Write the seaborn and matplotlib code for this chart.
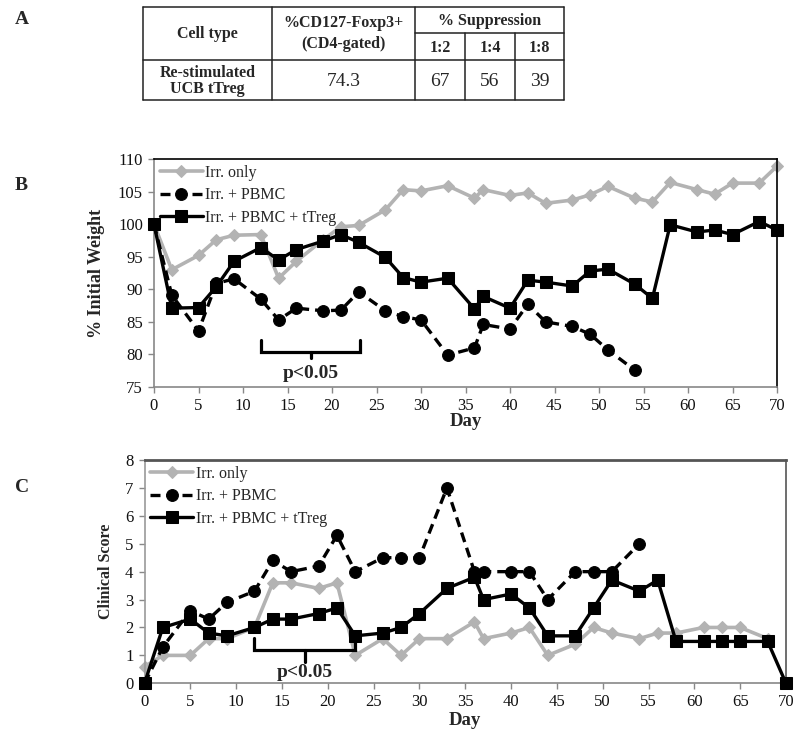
import matplotlib
matplotlib.use("Agg")
import matplotlib.pyplot as plt
import seaborn as sns
import pandas as pd

# ---------------- data ----------------
table_header = ["Cell type", "%CD127-Foxp3+\n(CD4-gated)", "% Suppression"]
ratios = ["1:2", "1:4", "1:8"]
cell_type = "Re-stimulated\nUCB tTreg"
pct_foxp3 = "74.3"
suppression = ["67", "56", "39"]

series_names = ["Irr. only", "Irr. + PBMC", "Irr. + PBMC + tTreg"]

days_long = [0, 2, 5, 7, 9, 12, 14, 16, 19, 21, 23, 26, 28, 30, 33, 36, 37, 40,
             42, 44, 47, 49, 51, 54, 56, 58, 61, 63, 65, 68, 70]
days_pbmc = [0, 2, 5, 7, 9, 12, 14, 16, 19, 21, 23, 26, 28, 30, 33, 36, 37, 40,
             42, 44, 47, 49, 51, 54]
days_irr_score = [0, 2, 5, 7, 9, 12, 14, 16, 19, 21, 23, 26, 28, 30, 33, 36, 37, 40,
                  42, 44, 47, 49, 51, 54, 56, 58, 61, 63, 65, 68]

weight_irr = [100, 93.0, 95.2, 97.6, 98.3, 98.4, 91.7, 94.3, 97.6, 99.6, 99.8, 102.2,
              105.3, 105.1, 105.9, 104.0, 105.3, 104.4, 104.8, 103.2, 103.7, 104.5,
              105.8, 104.0, 103.4, 106.4, 105.3, 104.6, 106.3, 106.3, 108.9]
weight_pbmc = [100, 89.1, 83.6, 90.9, 91.6, 88.5, 85.3, 87.1, 86.7, 86.8, 89.6, 86.7,
               85.8, 85.3, 79.9, 81.0, 84.6, 83.9, 87.7, 85.0, 84.3, 83.1, 80.7, 77.6]
weight_treg = [100, 87.1, 87.2, 90.4, 94.3, 96.4, 94.5, 96.1, 97.4, 98.4, 97.2, 94.9,
               91.8, 91.1, 91.7, 87.0, 88.9, 87.1, 91.4, 91.1, 90.5, 92.8, 93.1, 90.8,
               88.6, 99.9, 98.8, 99.1, 98.4, 100.4, 99.1]

score_irr = [0.6, 1.0, 1.0, 1.6, 1.6, 2.0, 3.6, 3.6, 3.4, 3.6, 1.0, 1.6, 1.0, 1.6, 1.6,
             2.2, 1.6, 1.8, 2.0, 1.0, 1.4, 2.0, 1.8, 1.6, 1.8, 1.8, 2.0, 2.0, 2.0, 1.6]
score_pbmc = [0, 1.3, 2.6, 2.3, 2.9, 3.3, 4.4, 4.0, 4.2, 5.3, 4.0, 4.5, 4.5, 4.5, 7.0,
              4.0, 4.0, 4.0, 4.0, 3.0, 4.0, 4.0, 4.0, 5.0]
score_treg = [0, 2.0, 2.3, 1.8, 1.7, 2.0, 2.3, 2.3, 2.5, 2.7, 1.7, 1.8, 2.0, 2.5, 3.4,
              3.8, 3.0, 3.2, 2.7, 1.7, 1.7, 2.7, 3.7, 3.3, 3.7, 1.5, 1.5, 1.5, 1.5, 1.5, 0]

# ---------------- style ----------------
sns.set_theme(style="ticks")
plt.rcParams["font.family"] = ["Liberation Serif", "DejaVu Serif"]
plt.rcParams["mathtext.default"] = "regular"

W, H = 800, 734
fig = plt.figure(figsize=(W / 100, H / 100), dpi=100)

# overlay axis in pixel coordinates for table and panel letters
ov = fig.add_axes([0, 0, 1, 1])
ov.set_xlim(0, W)
ov.set_ylim(H, 0)
ov.axis("off")
ov.set_zorder(-1)

for txt, y in [("A", 19), ("B", 186), ("C", 488)]:
    ov.text(15, y, txt, fontsize=14, fontweight="bold", ha="left", va="center")

# ---- table (panel A) ----
cols = [143, 272, 415, 465, 515, 564]
rows = [7, 33, 60, 100]
lc = "#222222"
lw = 1.1
ov.plot([cols[0], cols[-1]], [rows[0], rows[0]], color=lc, lw=lw)
ov.plot([cols[0], cols[-1]], [rows[2], rows[2]], color=lc, lw=lw)
ov.plot([cols[0], cols[-1]], [rows[3], rows[3]], color=lc, lw=lw)
ov.plot([cols[2], cols[-1]], [rows[1], rows[1]], color=lc, lw=lw)
for c in cols[:3] + [cols[-1]]:
    ov.plot([c, c], [rows[0], rows[3]], color=lc, lw=lw)
for c in cols[3:5]:
    ov.plot([c, c], [rows[1], rows[3]], color=lc, lw=lw)

hdr_y = (rows[0] + rows[2]) / 2
ov.text((cols[0] + cols[1]) / 2, hdr_y, table_header[0], fontsize=11.5, fontweight="bold",
        ha="center", va="center")
ov.text((cols[1] + cols[2]) / 2, hdr_y, table_header[1], fontsize=11.5, fontweight="bold",
        ha="center", va="center", linespacing=1.45)
ov.text((cols[2] + cols[5]) / 2, (rows[0] + rows[1]) / 2 + 1, table_header[2], fontsize=11.5,
        fontweight="bold", ha="center", va="center")
for i, r in enumerate(ratios):
    ov.text((cols[2 + i] + cols[3 + i]) / 2, (rows[1] + rows[2]) / 2 + 1, r, fontsize=11.5,
            fontweight="bold", ha="center", va="center")
data_y = (rows[2] + rows[3]) / 2
ov.text((cols[0] + cols[1]) / 2, data_y + 1, cell_type, fontsize=11.5, fontweight="bold",
        ha="center", va="center", linespacing=1.05)
ov.text((cols[1] + cols[2]) / 2, data_y + 1, pct_foxp3, fontsize=14, ha="center", va="center")
for i, s in enumerate(suppression):
    ov.text((cols[2 + i] + cols[3 + i]) / 2, data_y + 1, s, fontsize=14, ha="center",
            va="center")

# ---------------- line panels ----------------
GRAY = "#b3b3b3"


def draw_series(ax, d_irr, v_irr, d_pbmc, v_pbmc, d_treg, v_treg):
    sns.lineplot(x=d_irr, y=v_irr, ax=ax, color=GRAY, lw=2.6, marker="D", markersize=6,
                 markeredgecolor=GRAY, label=series_names[0], zorder=2)
    sns.lineplot(x=d_pbmc, y=v_pbmc, ax=ax, color="black", lw=2.4, marker="o",
                 markersize=8.5, markeredgecolor="black", linestyle=(0, (3, 1.8)),
                 label=series_names[1], zorder=3)
    sns.lineplot(x=d_treg, y=v_treg, ax=ax, color="black", lw=2.4, marker="s",
                 markersize=8.5, markeredgecolor="black", label=series_names[2], zorder=4)


def style_axes(ax, top_col, right_col, left_col, bottom_col, lw_top):
    ax.set_xlim(0, 70)
    ax.set_xticks(range(0, 71, 5))
    for side, col in [("top", top_col), ("right", right_col), ("left", left_col),
                      ("bottom", bottom_col)]:
        ax.spines[side].set_visible(True)
        ax.spines[side].set_color(col)
        ax.spines[side].set_linewidth(1.2)
    ax.spines["top"].set_linewidth(lw_top)
    ax.tick_params(axis="both", direction="out", length=4, width=1, color="#888888",
                   labelsize=12, pad=4, labelcolor="#111111")
    ax.set_xlabel("Day", fontsize=13.5, fontweight="bold", labelpad=1)
    leg = ax.legend(loc="upper left", frameon=False, fontsize=11.5, handlelength=2.7,
                    handletextpad=0.15, labelspacing=0.42, borderaxespad=0.1,
                    borderpad=0.25)
    return leg


def bracket(ax, x0, x1, y_top, y_mid, y_bot, ty):
    xc = (x0 + x1) / 2
    ax.plot([x0, x0, x1, x1], [y_top, y_mid, y_mid, y_top], color="black", lw=2.3,
            solid_joinstyle="miter", zorder=5)
    ax.plot([xc, xc], [y_mid, y_bot], color="black", lw=2.3, zorder=5)
    ax.text(xc, ty, "p<0.05", fontsize=14, fontweight="bold", ha="center", va="center")


# Panel B
axB = fig.add_axes([154 / W, 1 - 387 / H, (777 - 154) / W, (387 - 159) / H])
draw_series(axB, days_long, weight_irr, days_pbmc, weight_pbmc, days_long, weight_treg)
axB.set_ylim(75, 110)
axB.set_yticks(range(75, 111, 5))
style_axes(axB, "black", "black", "#888888", "#888888", 1.2)
axB.set_ylabel("% Initial Weight", fontsize=13, fontweight="bold", labelpad=8)
axB.yaxis.set_label_coords(-0.078, 0.5)
axB.xaxis.set_label_coords(0.5, -0.115)
bracket(axB, 12, 23.2, 82.2, 80.4, 79.5, 77.1)

# Panel C
axC = fig.add_axes([144.5 / W, 1 - 683.3 / H, (786 - 144.5) / W, (683.3 - 460) / H])
draw_series(axC, days_irr_score, score_irr, days_pbmc, score_pbmc, days_long, score_treg)
axC.set_ylim(0, 8)
axC.set_yticks(range(0, 9, 1))
style_axes(axC, "#555555", "#555555", "#999999", "#888888", 2.0)
axC.set_ylabel("Clinical Score", fontsize=11.5, fontweight="bold", labelpad=8)
axC.yaxis.set_label_coords(-0.047, 0.5)
axC.xaxis.set_label_coords(0.5, -0.13)
bracket(axC, 12, 23, 1.62, 1.2, 0.78, 0.38)

for ax in (axB, axC):
    for ln in ax.lines:
        ln.set_clip_on(False)

fig.savefig("out.png", dpi=100)
